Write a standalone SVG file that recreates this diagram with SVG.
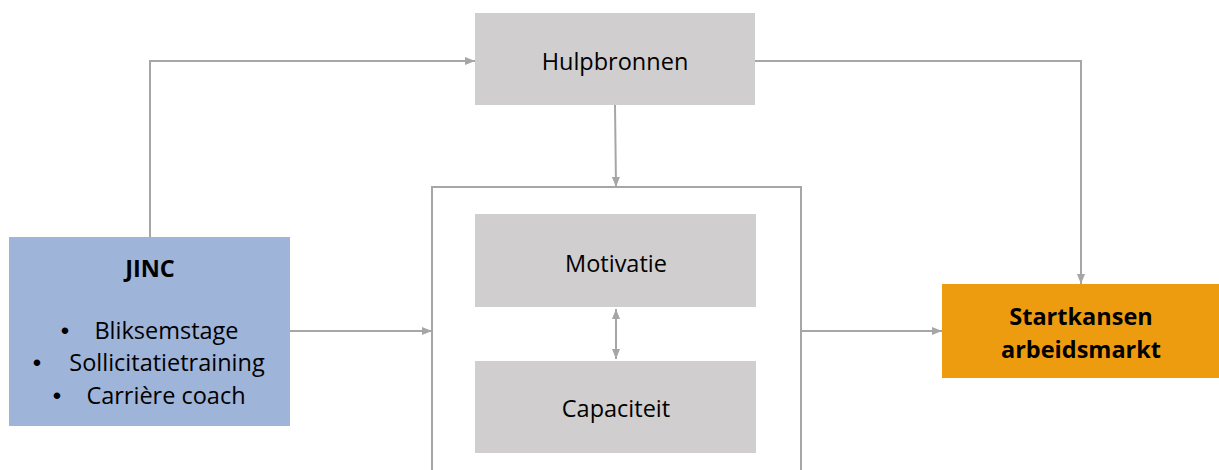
<svg xmlns="http://www.w3.org/2000/svg" width="1219" height="470" viewBox="0 0 1219 470">
<defs>
<marker id="ah" viewBox="0 0 10 8" refX="10" refY="4" markerWidth="10" markerHeight="8" markerUnits="userSpaceOnUse" orient="auto-start-reverse">
<path d="M0,0 L10,4 L0,8 Z" fill="#A6A6A6"/>
</marker>
<style>
.t{font-family:"Open Sans","Noto Sans",sans-serif;font-size:23.5px;fill:#000;text-anchor:middle;dominant-baseline:central}
.b{font-weight:bold}
.u{font-family:"Liberation Sans",sans-serif;font-size:24px;fill:#000;text-anchor:middle;dominant-baseline:central}
.c{fill:none;stroke:#A6A6A6;stroke-width:2}
.g{fill:#D0CECE}
</style>
</defs>
<rect width="1219" height="470" fill="#fff"/>
<g id="container"><path d="M432,470 V187 H801 V470" fill="none" stroke="#A6A6A6" stroke-width="2"/></g>
<g id="jinc">
<rect x="9" y="237" width="281" height="189" fill="#9FB4D9"/>
<text class="t b" x="150" y="268">JINC</text>
<text class="u" x="65" y="330">•</text><text class="t" x="166.5" y="330">Bliksemstage</text>
<text class="u" x="37" y="362">•</text><text class="t" x="167" y="362">Sollicitatietraining</text>
<text class="u" x="57" y="395">•</text><text class="t" x="166" y="395">Carrière coach</text>
</g>
<g id="hulpbronnen"><rect class="g" x="475" y="13" width="280" height="92"/><text class="t" x="615" y="61">Hulpbronnen</text></g>
<g id="motivatie"><rect class="g" x="475" y="214" width="281" height="93"/><text class="t" x="616" y="263">Motivatie</text></g>
<g id="capaciteit"><rect class="g" x="475" y="361" width="281" height="92"/><text class="t" x="616" y="408">Capaciteit</text></g>
<g id="startkansen"><rect x="942" y="284" width="277" height="94" fill="#EE9C0F"/><text class="t b" x="1081" y="316">Startkansen</text><text class="t b" x="1081" y="349">arbeidsmarkt</text></g>
<g id="connectors">
<path class="c" d="M150,237 V61 H475" marker-end="url(#ah)"/>
<path class="c" d="M615,105 L616,187" marker-end="url(#ah)"/>
<path class="c" d="M755,61 H1081 V284" marker-end="url(#ah)"/>
<path class="c" d="M290,331 H432" marker-end="url(#ah)"/>
<path class="c" d="M801,331 H942" marker-end="url(#ah)"/>
<path class="c" d="M616,309 V359" marker-start="url(#ah)" marker-end="url(#ah)"/>
</g>
</svg>
